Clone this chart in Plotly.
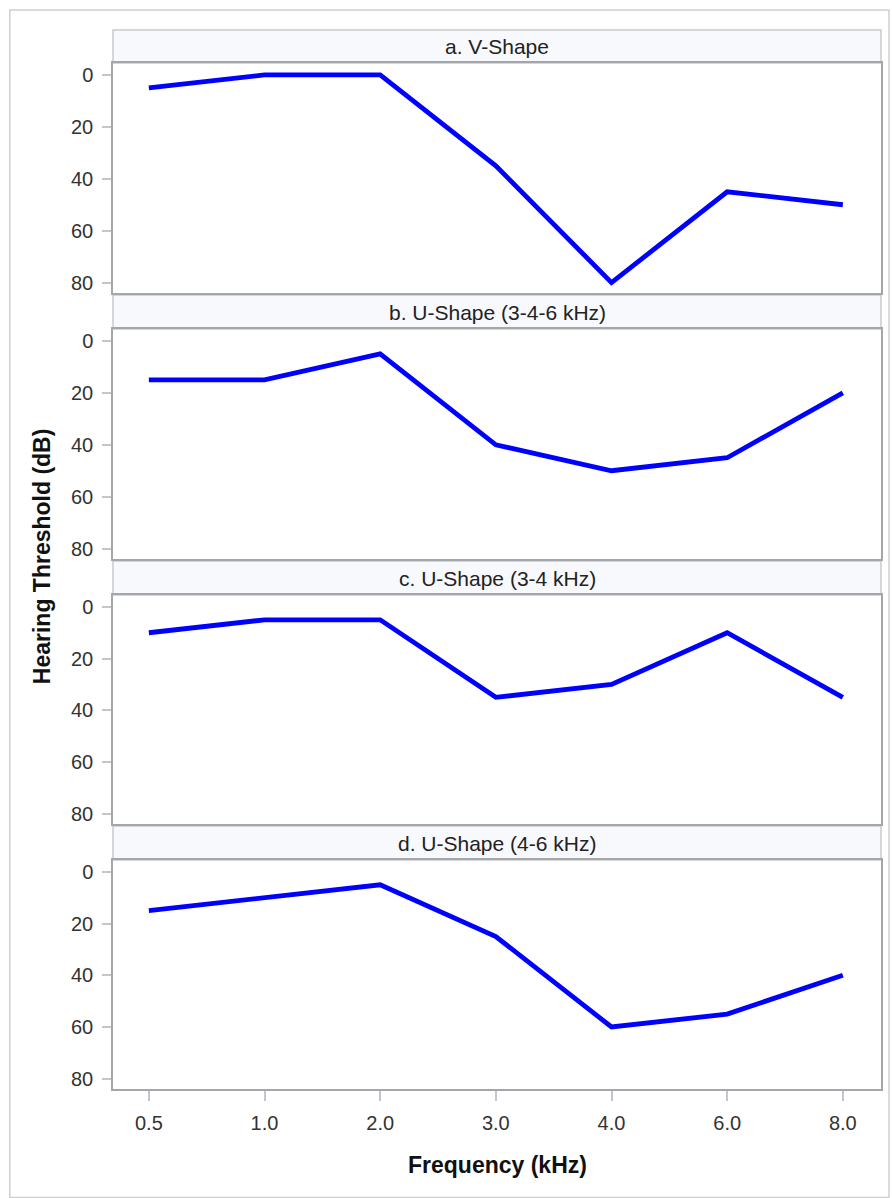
import plotly.graph_objects as go

freq = ["0.5", "1.0", "2.0", "3.0", "4.0", "6.0", "8.0"]
panel_titles = ["a. V-Shape", "b. U-Shape (3-4-6 kHz)", "c. U-Shape (3-4 kHz)", "d. U-Shape (4-6 kHz)"]
v_shape = [5, 0, 0, 35, 80, 45, 50]
u_346 = [15, 15, 5, 40, 50, 45, 20]
u_34 = [10, 5, 5, 35, 30, 10, 35]
u_46 = [15, 10, 5, 25, 60, 55, 40]
series = [v_shape, u_346, u_34, u_46]
y_ticks = [0, 20, 40, 60, 80]

W, H = 892, 1198
L, R, T, B = 113, 883, 30, 1089
pw, ph = R - L, B - T

def py(p):
    return (B - p) / ph

def px(p):
    return (p - L) / pw

plot_tops = [63, 329, 595, 860]
plot_bots = [293, 559, 824, 1089]
head_tops = [30, 295, 561, 826]

FONT = "Liberation Sans, Arial, sans-serif"
FRAME = "#a3a6ab"
TICKC = "#c4c6c9"

fig = go.Figure()
layout = dict(
    width=W, height=H,
    margin=dict(l=L, r=W - R, t=T, b=H - B),
    paper_bgcolor="white", plot_bgcolor="white",
    showlegend=False,
    font=dict(family=FONT, size=20, color="#333333"),
)
shapes = []
annotations = []
for i, vals in enumerate(series):
    n = i + 1
    xa = "x" if n == 1 else f"x{n}"
    ya = "y" if n == 1 else f"y{n}"
    fig.add_trace(go.Scatter(x=freq, y=vals, mode="lines", xaxis=xa, yaxis=ya,
                             line=dict(color="#0000ff", width=4.8)))
    last = (n == 4)
    layout[f"xaxis{'' if n == 1 else n}"] = dict(
        type="category", categoryorder="array", categoryarray=freq,
        range=[-0.31, 6.33], anchor=ya,
        domain=[0, 1], showgrid=False, zeroline=False,
        showline=True, mirror=True, linecolor=FRAME, linewidth=1.5,
        ticks="outside" if last else "", ticklen=10, tickwidth=2, tickcolor=TICKC,
        showticklabels=last, tickfont=dict(size=20, color="#333333"),
        ticklabelstandoff=5,
        matches=None if n == 1 else "x",
    )
    layout[f"yaxis{'' if n == 1 else n}"] = dict(
        range=[84, -4.6], anchor=xa,
        domain=[py(plot_bots[i]), py(plot_tops[i])],
        tickvals=y_ticks, showgrid=False, zeroline=False,
        showline=True, mirror=True, linecolor=FRAME, linewidth=1.5,
        ticks="outside", ticklen=9, tickwidth=2, tickcolor=TICKC,
        tickfont=dict(size=20, color="#333333"),
        ticklabelstandoff=5,
    )
    shapes.append(dict(type="rect", xref="paper", yref="paper",
                       x0=0, x1=1, y0=py(plot_tops[i]), y1=py(head_tops[i]),
                       fillcolor="#f8f9fd", line=dict(color="#c8cacd", width=1.5), layer="below"))
    annotations.append(dict(text=panel_titles[i], xref="paper", yref="paper",
                            x=0.5, y=(py(plot_tops[i]) + py(head_tops[i])) / 2,
                            xanchor="center", yanchor="middle", showarrow=False,
                            font=dict(size=21, color="#222222")))

shapes.append(dict(type="rect", xref="paper", yref="paper",
                   x0=px(9.5), x1=px(891), y0=py(1197.5), y1=py(10),
                   line=dict(color="#d0d0d0", width=1.5), fillcolor="rgba(0,0,0,0)", layer="below"))
annotations.append(dict(text="<b>Frequency (kHz)</b>", xref="paper", yref="paper",
                        x=0.5, y=py(1165), xanchor="center", yanchor="middle",
                        showarrow=False, font=dict(size=23, color="#111111")))
annotations.append(dict(text="<b>Hearing Threshold (dB)</b>", xref="paper", yref="paper",
                        x=px(42), y=py(556), xanchor="center", yanchor="middle", textangle=-90,
                        showarrow=False, font=dict(size=23, color="#111111")))
layout["shapes"] = shapes
layout["annotations"] = annotations
fig.update_layout(**layout)
fig.write_html("out.html")
